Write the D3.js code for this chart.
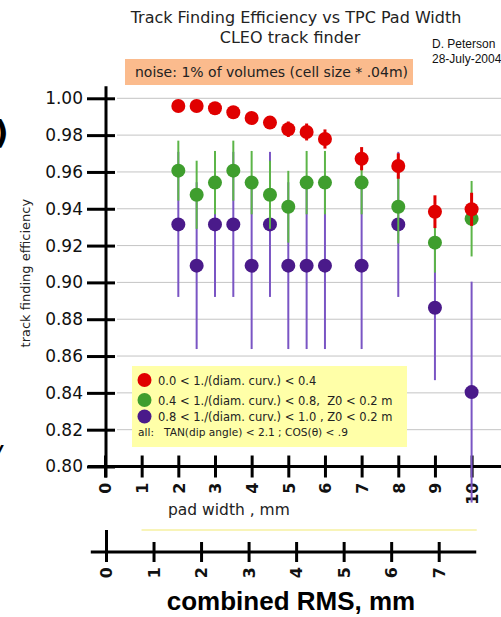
<!DOCTYPE html>
<html>
<head>
<meta charset="utf-8">
<script src="https://cdn.jsdelivr.net/npm/d3@7"></script>
<style>
  body { margin: 0; background: #fff; }
  svg { display: block; font-family: "DejaVu Sans", Verdana, sans-serif; }
  text { white-space: pre; }
</style>
</head>
<body>
<svg id="chart"></svg>
<script>
// pad width (mm) for each measured point
const padWidth = [2, 2.5, 3, 3.5, 4, 4.5, 5, 5.5, 6, 7, 8, 9, 10];

// 0.0 < 1/(diam curv) < 0.4
const redEff = [0.9958, 0.9958, 0.9946, 0.9924, 0.9893, 0.9868, 0.9832, 0.9817, 0.9779, 0.9672, 0.9632, 0.9384, 0.9397];
const redErr = [0.0015, 0.0015, 0.002, 0.0025, 0.003, 0.0035, 0.0042, 0.0046, 0.0052, 0.0063, 0.0069, 0.0089, 0.009];

// 0.4 < 1/(diam curv) < 0.8
const greenEff = [0.9607, 0.9476, 0.9542, 0.9607, 0.9542, 0.9476, 0.9411, 0.9542, 0.9542, 0.9542, 0.9411, 0.9216, 0.9346];
const greenErr = [0.0163, 0.0185, 0.0172, 0.0163, 0.0172, 0.0185, 0.0195, 0.0172, 0.0172, 0.0172, 0.0199, 0.0163, 0.0205];

// 0.8 < 1/(diam curv) < 1.0
const purpleEff = [0.9315, 0.9091, 0.9315, 0.9315, 0.9091, 0.9315, 0.9091, 0.9091, 0.9091, 0.9091, 0.9315, 0.8862, 0.8404];
const purpleErr = [0.0394, 0.0453, 0.0394, 0.0394, 0.0453, 0.0394, 0.0453, 0.0453, 0.0453, 0.0453, 0.0394, 0.0393, 0.06];

const yTicks = [0.80, 0.82, 0.84, 0.86, 0.88, 0.90, 0.92, 0.94, 0.96, 0.98, 1.00];
const padTicks = [0, 1, 2, 3, 4, 5, 6, 7, 8, 9, 10];
const rmsTicks = [0, 1, 2, 3, 4, 5, 6, 7];

const legendLabels = [
    "0.0 < 1./(diam. curv.) < 0.4",
    "0.4 < 1./(diam. curv.) < 0.8,  Z0 < 0.2 m",
    "0.8 < 1./(diam. curv.) < 1.0 , Z0 < 0.2 m"
];
const legendNote = "all:   TAN(dip angle) < 2.1 ; COS(\u03B8) < .9";

const width = 501, height = 617;
const svg = d3.select("#chart").attr("width", width).attr("height", height);

const x = d3.scaleLinear().domain([0, 10]).range([105, 471.6]);
const y = d3.scaleLinear().domain([0.8, 1.0]).range([466.5, 98.3]);
const rms = d3.scaleLinear().domain([0, 7]).range([106, 438.7]);

// left-edge fragments from the neighbouring slide
svg.append("text").attr("x", -6).attr("y", 143).attr("font-size", 32).attr("font-weight", "bold").text(")");
svg.append("text").attr("x", -9).attr("y", 467).attr("font-size", 30).attr("font-style", "italic").text("/");

// titles
svg.append("text").attr("x", 296).attr("y", 23).attr("text-anchor", "middle").attr("font-size", 16).attr("fill", "#222")
    .text("Track Finding Efficiency vs TPC Pad Width");
svg.append("text").attr("x", 290).attr("y", 43).attr("text-anchor", "middle").attr("font-size", 16).attr("fill", "#222")
    .text("CLEO track finder");
svg.append("text").attr("x", 432).attr("y", 48).attr("font-family", "Liberation Sans, Arial").attr("font-size", 12).attr("fill", "#111")
    .text("D. Peterson");
svg.append("text").attr("x", 432).attr("y", 63).attr("font-family", "Liberation Sans, Arial").attr("font-size", 12).attr("fill", "#111")
    .text("28-July-2004");

// noise note
svg.append("rect").attr("x", 125).attr("y", 59).attr("width", 288).attr("height", 26).attr("fill", "#fbbb8d");
svg.append("text").attr("x", 135).attr("y", 77).attr("font-size", 14).attr("fill", "#222")
    .text("noise: 1% of volumes (cell size * .04m)");

// grid
svg.append("g").selectAll("line")
    .data(yTicks.slice(1))
    .enter().append("line")
    .attr("x1", 117).attr("x2", width)
    .attr("y1", d => y(d)).attr("y2", d => y(d))
    .attr("stroke", "#c4c4c4").attr("stroke-width", 1);

// y axis
const yAxis = svg.append("g")
    .attr("transform", `translate(106,0)`)
    .call(d3.axisLeft(y).tickValues(yTicks).tickFormat(d3.format(".2f")).tickSize(19).tickPadding(4));
yAxis.select(".domain").remove();
yAxis.selectAll(".tick line").attr("x2", -19).attr("x1", 9).attr("stroke", "#000").attr("stroke-width", 3);
yAxis.selectAll(".tick text").attr("font-size", 17).attr("font-family", "DejaVu Sans").attr("fill", "#111");
svg.append("line").attr("x1", 106).attr("x2", 106).attr("y1", y(1.0) - 12).attr("y2", y(0.8) + 11)
    .attr("stroke", "#000").attr("stroke-width", 3);

svg.append("text")
    .attr("transform", `translate(30,${y(0.905)}) rotate(-90)`)
    .attr("text-anchor", "middle").attr("font-size", 13).attr("fill", "#222")
    .text("track finding efficiency");

// x axis (pad width)
const xAxis = svg.append("g")
    .attr("transform", `translate(0,${y(0.8)})`)
    .call(d3.axisBottom(x).tickValues(padTicks).tickFormat(d3.format("d")));
xAxis.select(".domain").remove();
xAxis.selectAll(".tick line").attr("y1", -11).attr("y2", 11).attr("stroke", "#000").attr("stroke-width", 3);
xAxis.selectAll(".tick text")
    .attr("transform", "rotate(-90)")
    .attr("x", -16).attr("y", 0).attr("dy", "0.36em")
    .attr("text-anchor", "end")
    .attr("font-size", 16).attr("font-weight", "bold").attr("font-family", "DejaVu Sans").attr("fill", "#111");
svg.append("line").attr("x1", 88).attr("x2", width).attr("y1", y(0.8)).attr("y2", y(0.8))
    .attr("stroke", "#000").attr("stroke-width", 3);

svg.append("text").attr("x", 168).attr("y", 515).attr("font-size", 15.5).attr("fill", "#222")
    .text("pad width , mm");

// series
const series = [
    { eff: purpleEff, err: purpleErr, fill: "#4a1a8a", bar: "#7a55c4", bw: 2 },
    { eff: greenEff, err: greenErr, fill: "#3f9e2e", bar: "#5cb548", bw: 2 },
    { eff: redEff, err: redErr, fill: "#e00000", bar: "#e00000", bw: 3 }
];

series.forEach(s => {
    const pts = padWidth.map((p, i) => ({ p, v: s.eff[i], e: s.err[i] }));
    const g = svg.append("g");
    g.selectAll("line")
        .data(pts)
        .enter().append("line")
        .attr("x1", d => x(d.p)).attr("x2", d => x(d.p))
        .attr("y1", d => y(d.v + d.e)).attr("y2", d => y(d.v - d.e))
        .attr("stroke", s.bar).attr("stroke-width", s.bw);
    g.selectAll("circle")
        .data(pts)
        .enter().append("circle")
        .attr("cx", d => x(d.p)).attr("cy", d => y(d.v))
        .attr("r", 7)
        .attr("fill", s.fill);
});

// legend
const legend = svg.append("g");
legend.append("rect").attr("x", 132).attr("y", 366).attr("width", 275).attr("height", 81).attr("fill", "#ffffa8");
const legendColors = ["#e00000", "#3f9e2e", "#4a1a8a"];
const legendY = [380, 400, 416.5];
legendLabels.forEach((lbl, i) => {
    legend.append("circle").attr("cx", 144.5).attr("cy", legendY[i]).attr("r", 7).attr("fill", legendColors[i]);
    legend.append("text").attr("x", 158).attr("y", legendY[i] + 4.5).attr("font-size", 11.5).attr("fill", "#222").text(lbl);
});
legend.append("text").attr("x", 138).attr("y", 436).attr("font-size", 10.6).attr("fill", "#222").text(legendNote);

// second axis: combined RMS
svg.append("line").attr("x1", rms(1) - 12).attr("x2", rms(7.8)).attr("y1", 530).attr("y2", 530)
    .attr("stroke", "#f6f0a0").attr("stroke-width", 1.5);
const rAxis = svg.append("g")
    .attr("transform", "translate(0,552)")
    .call(d3.axisBottom(rms).tickValues(rmsTicks).tickFormat(d3.format("d")));
rAxis.select(".domain").remove();
rAxis.selectAll(".tick line").attr("y1", d => d === 0 ? -22 : -10).attr("y2", 10).attr("stroke", "#000").attr("stroke-width", 3);
rAxis.selectAll(".tick text")
    .attr("transform", "rotate(-90)")
    .attr("x", -15).attr("y", 0).attr("dy", "0.36em")
    .attr("text-anchor", "end")
    .attr("font-size", 16).attr("font-weight", "bold").attr("font-family", "DejaVu Sans").attr("fill", "#111");
svg.append("line").attr("x1", rms(-0.32)).attr("x2", rms(7.79)).attr("y1", 552).attr("y2", 552)
    .attr("stroke", "#000").attr("stroke-width", 3);

svg.append("text").attr("x", 291).attr("y", 610).attr("text-anchor", "middle")
    .attr("font-family", "Liberation Sans, Arial").attr("font-weight", "bold").attr("font-size", 26).attr("fill", "#000")
    .text("combined RMS, mm");
</script>
</body>
</html>
